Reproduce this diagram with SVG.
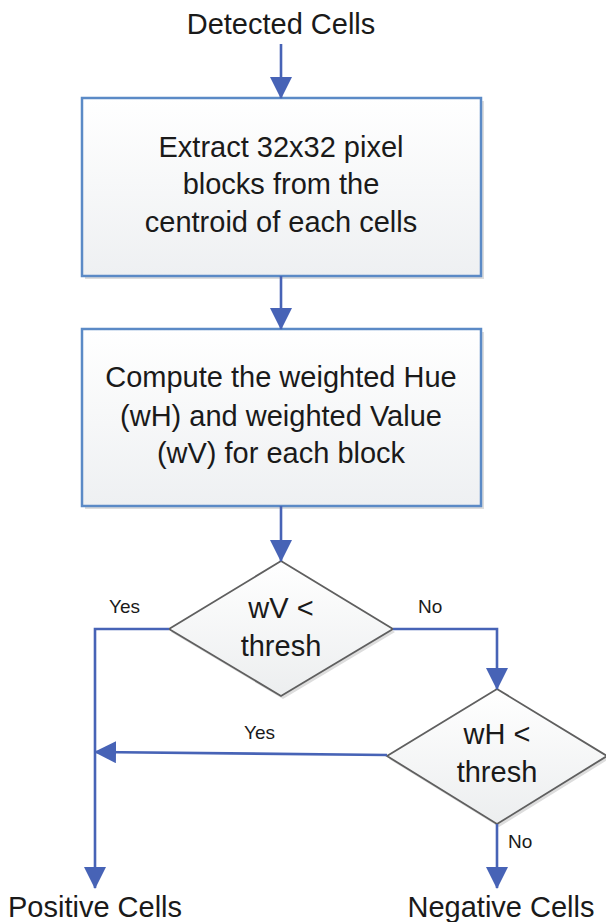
<svg xmlns="http://www.w3.org/2000/svg" width="606" height="922" viewBox="0 0 606 922">
  <style>
    .lbl { font-family: "Liberation Sans", Arial, sans-serif; font-size: 29px; fill: #1a1a1a; text-anchor: middle; }
    .small { font-family: "Liberation Sans", Arial, sans-serif; font-size: 19px; fill: #1a1a1a; text-anchor: start; }
    .box { fill: url(#boxFill); stroke: #5b8ac6; stroke-width: 2.5; }
    .shadow { fill: #dddddd; }
    .dia { fill: url(#diaFill); stroke: #5f5f5f; stroke-width: 1.8; }
    .conn { fill: none; stroke: #4763b6; stroke-width: 2.6; marker-end: url(#arrow); }
  </style>
  <defs>
    <linearGradient id="boxFill" x1="0" y1="0" x2="0" y2="1">
      <stop offset="0" stop-color="#ffffff"/>
      <stop offset="1" stop-color="#eef0f2"/>
    </linearGradient>
    <linearGradient id="diaFill" x1="0" y1="0" x2="0" y2="1">
      <stop offset="0" stop-color="#ffffff"/>
      <stop offset="1" stop-color="#eceeef"/>
    </linearGradient>
    <marker id="arrow" markerUnits="userSpaceOnUse" markerWidth="22" markerHeight="22" viewBox="0 0 22 22" refX="21" refY="11" orient="auto">
      <path d="M0,0 L22,11 L0,22 Z" fill="#4763b6"/>
    </marker>
  </defs>

  <!-- terminal labels -->
  <g id="detected">
    <text class="lbl" x="281" y="34">Detected Cells</text>
  </g>

  <!-- processing steps -->
  <g id="extract">
    <rect class="shadow" x="85" y="101" width="399" height="178"/>
    <rect class="box" x="82" y="98" width="399" height="178"/>
    <text class="lbl" x="281" y="157">Extract 32x32 pixel</text>
    <text class="lbl" x="281" y="194">blocks from the</text>
    <text class="lbl" x="281" y="232">centroid of each cells</text>
  </g>

  <g id="compute">
    <rect class="shadow" x="85" y="332" width="399" height="177"/>
    <rect class="box" x="82" y="329" width="399" height="177"/>
    <text class="lbl" x="281" y="387">Compute the weighted Hue</text>
    <text class="lbl" x="281" y="426">(wH) and weighted Value</text>
    <text class="lbl" x="281" y="463">(wV) for each block</text>
  </g>

  <!-- decisions -->
  <g id="decisionV">
    <polygon points="283,564 395,632 283,699 171,632" fill="#dddddd"/>
    <polygon class="dia" points="281,561 393,629 281,696 169,629"/>
    <text class="lbl" x="281" y="618">wV &lt;</text>
    <text class="lbl" x="281" y="656">thresh</text>
  </g>

  <g id="decisionH">
    <polygon points="499,692 609,759 499,827 389,759" fill="#dddddd"/>
    <polygon class="dia" points="497,689 607,756 497,824 387,756"/>
    <text class="lbl" x="497" y="744">wH &lt;</text>
    <text class="lbl" x="497" y="782">thresh</text>
  </g>

  <g id="positive">
    <text class="lbl" x="95" y="917">Positive Cells</text>
  </g>
  <g id="negative">
    <text class="lbl" x="501" y="917">Negative Cells</text>
  </g>

  <!-- connectors -->
  <g id="connectors">
    <path class="conn" d="M281,44 V98"/>
    <path class="conn" d="M281,276 V329"/>
    <path class="conn" d="M281,506 V561"/>
    <path class="conn" d="M169,629 H95 V888"/>
    <path class="conn" d="M393,629 H497 V689"/>
    <path class="conn" d="M387,755 L95,752"/>
    <path class="conn" d="M497,824 V888"/>
  </g>

  <!-- branch labels -->
  <g id="branch-labels">
    <text class="small" x="109" y="613">Yes</text>
    <text class="small" x="418" y="613">No</text>
    <text class="small" x="244" y="739">Yes</text>
    <text class="small" x="508" y="848">No</text>
  </g>
</svg>
